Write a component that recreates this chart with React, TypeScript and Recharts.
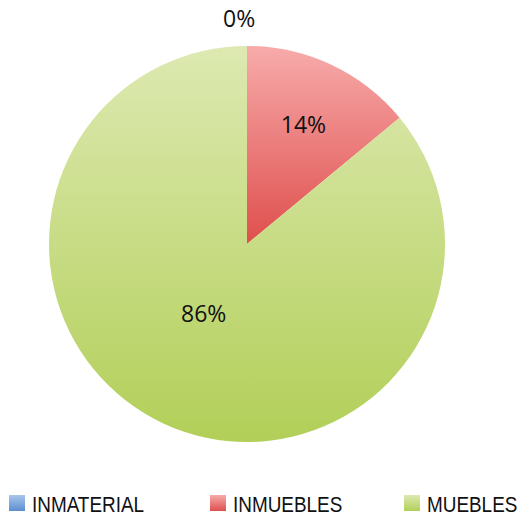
import React from 'react';
import { PieChart, Pie, Cell, Legend } from 'recharts';

const categories = ['INMATERIAL', 'INMUEBLES', 'MUEBLES'];
const shares = [0, 14, 86];

const GRADIENTS: Record<string, [string, string]> = {
  INMATERIAL: ['#a9c6ea', '#5b8fd0'],
  INMUEBLES: ['#f7abab', '#df4f4d'],
  MUEBLES: ['#dde9b1', '#b2cf58'],
};

const LEGEND_X = [9, 210, 404];

const data = categories.map((name, i) => ({ name, value: shares[i] }));

const RADIAN = Math.PI / 180;

const renderLabel = (props: any) => {
  const { cx, cy, midAngle, outerRadius, percent, value } = props;
  let r = outerRadius * 0.67;
  let a = midAngle;
  if (value === 0) {
    r = outerRadius + 28;
    a = midAngle + 2;
  } else if (percent > 0.5) {
    r = outerRadius * 0.41;
    a = midAngle - 7;
  }
  const x = cx + r * Math.cos(-a * RADIAN);
  const y = cy + r * Math.sin(-a * RADIAN);
  return (
    <text
      x={x}
      y={y}
      textAnchor="middle"
      dominantBaseline="central"
      fill="#111"
      fontSize={23}
      fontFamily="'Open Sans', sans-serif"
    >
      {`${Math.round(percent * 100)}%`}
    </text>
  );
};

const renderLegend = () => (
  <svg width={521} height={30} style={{ display: 'block' }}>
    <defs>
      {categories.map((name) => (
        <linearGradient key={name} id={`lg-${name}`} x1="0" y1="0" x2="0" y2="1">
          <stop offset="0%" stopColor={GRADIENTS[name][0]} />
          <stop offset="100%" stopColor={GRADIENTS[name][1]} />
        </linearGradient>
      ))}
    </defs>
    {categories.map((name, i) => (
      <g key={name}>
        <rect x={LEGEND_X[i]} y={7} width={16} height={16} fill={`url(#lg-${name})`} />
        <g transform={`translate(${LEGEND_X[i] + 23}, 24) scale(0.86, 1)`}>
          <text x={0} y={0} fontFamily="'Liberation Sans', Arial, sans-serif" fontSize={22} fill="#111">
            {name}
          </text>
        </g>
      </g>
    ))}
  </svg>
);

export default function App() {
  return (
    <div style={{ width: 521, height: 518, background: '#fff' }}>
      <style>{'body{margin:0}'}</style>
      <PieChart width={521} height={518} margin={{ top: 0, right: 0, bottom: 0, left: 0 }}>
        <defs>
          {categories.map((name) => (
            <linearGradient key={name} id={`grad-${name}`} x1="0" y1="0" x2="0" y2="1">
              <stop offset="0%" stopColor={GRADIENTS[name][0]} />
              <stop offset="100%" stopColor={GRADIENTS[name][1]} />
            </linearGradient>
          ))}
        </defs>
        <Pie
          data={data}
          dataKey="value"
          nameKey="name"
          cx={247}
          cy={244}
          outerRadius={198}
          startAngle={90}
          endAngle={-270}
          stroke="none"
          label={renderLabel}
          labelLine={false}
          isAnimationActive={false}
        >
          {data.map((d) => (
            <Cell key={d.name} fill={`url(#grad-${d.name})`} />
          ))}
        </Pie>
        <Legend
          verticalAlign="bottom"
          align="left"
          content={renderLegend}
          wrapperStyle={{ top: 488, left: 0, width: 521, height: 30 }}
        />
      </PieChart>
    </div>
  );
}
